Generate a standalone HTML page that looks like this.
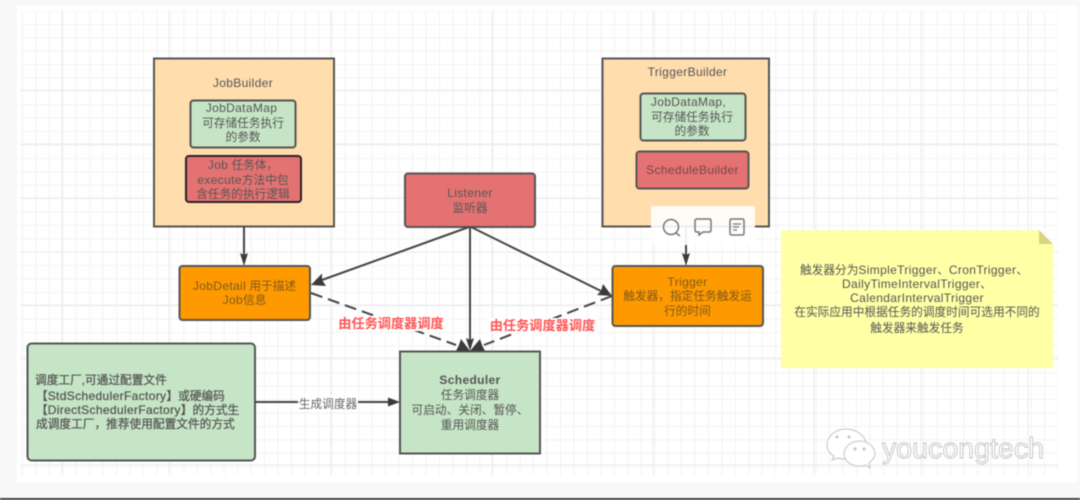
<!DOCTYPE html>
<html><head><meta charset="utf-8">
<style>
html,body{margin:0;padding:0;background:#f8f8f8;width:1080px;height:500px;overflow:hidden}
svg{display:block;filter:blur(0.5px)}
text{font-family:"Liberation Sans","Noto Sans CJK SC",sans-serif;font-size:11.7px;fill:#555;text-anchor:middle}
.a{font-size:12px;letter-spacing:.35px}
.f{text-anchor:start;stroke:#555;stroke-width:.25}
.b{stroke:#555;stroke-width:2}
.l{stroke:#444;stroke-width:2;fill:none}
.d{stroke:#444;stroke-width:2;fill:none;stroke-dasharray:12 6}
.h{fill:#3a3a3a;stroke:none}
.r{fill:#ff5555;font-weight:bold;font-size:13.2px}
.dk{fill:#7d5a1a}
</style></head><body>
<svg width="1080" height="500" viewBox="0 0 1080 500" xmlns="http://www.w3.org/2000/svg">
<defs>
<pattern id="g" x="22" y="10.500" width="13.45" height="13.4" patternUnits="userSpaceOnUse">
<path d="M0.5 0V13.4M0 0.5H13.45" stroke="#f2f2f2" stroke-width="1" fill="none"/>
</pattern>
</defs>
<rect x="0" y="0" width="1080" height="500" fill="#f8f8f8"/>
<rect x="17" y="6" width="1061" height="476" fill="#fff"/>
<rect x="20" y="11" width="1038" height="464" fill="url(#g)"/>
<g stroke="#ebebeb" stroke-width="1">
<path d="M62 11V475M169 11V475M331 11V475M492 11V475M653 11V475M814 11V475M921 11V475M1028 11V475"/>
<path d="M20 90H1058M20 144H1058M20 198H1058M20 252H1058M20 305H1058M20 358H1058M20 465H1058"/>
</g>
<rect x="0" y="498" width="1080" height="2" fill="#444"/>

<!-- JobBuilder -->
<rect class="b" x="154" y="58.500" width="180" height="168" fill="#ffddad"/>
<text class="a" x="243" y="87">JobBuilder</text>
<rect class="b" x="190.500" y="100.500" width="105" height="47" rx="3" fill="#c6e5c6"/>
<text class="a" x="241.500" y="112">JobDataMap</text>
<text x="243" y="127">可存储任务执行</text>
<text x="243" y="141">的参数</text>
<rect x="186" y="156" width="115" height="46" rx="3" fill="#e57272" stroke="#2a2226" stroke-width="2"/>
<text x="243" y="169"><tspan class="a">Job</tspan> 任务体，</text>
<text x="243" y="184"><tspan class="a">execute</tspan>方法中包</text>
<text x="243" y="198">含任务的执行逻辑</text>

<!-- TriggerBuilder -->
<rect class="b" x="602.500" y="58.500" width="166.500" height="168" fill="#ffddad"/>
<text class="a" x="687.500" y="76">TriggerBuilder</text>
<rect class="b" x="640.500" y="93.500" width="105" height="47" rx="3" fill="#c6e5c6"/>
<text class="a" x="688.500" y="106">JobDataMap,</text>
<text x="692" y="121">可存储任务执行</text>
<text x="692" y="135">的参数</text>
<rect class="b" x="636.500" y="151.500" width="112" height="37" rx="3" fill="#e57272"/>
<text class="a" x="692.500" y="174" style="fill:#74474a">ScheduleBuilder</text>

<!-- Listener -->
<rect class="b" x="405" y="173.500" width="130" height="53.500" rx="3" fill="#e57272"/>
<text class="a" x="470" y="197">Listener</text>
<text x="470" y="212">监听器</text>

<!-- JobDetail -->
<rect class="b" x="179.500" y="266" width="130.500" height="54" rx="3" fill="#ff9900"/>
<text class="dk" x="244.500" y="290"><tspan class="a">JobDetail</tspan> 用于描述</text>
<text class="dk" x="244.500" y="304"><tspan class="a">Job</tspan>信息</text>

<!-- Trigger -->
<rect class="b" x="612.500" y="266" width="150.500" height="60" rx="3" fill="#ff9900"/>
<text class="dk a" x="687.500" y="286">Trigger</text>
<text class="dk" x="687.500" y="300">触发器，指定任务触发运</text>
<text class="dk" x="687.500" y="315">行的时间</text>

<!-- Factory -->
<rect class="b" x="27.500" y="343.500" width="227.500" height="117" rx="4" fill="#c6e5c6"/>
<text class="f" x="35" y="384">调度工厂,可通过配置文件</text>
<text class="f" x="36" y="400">【<tspan class="a">StdSchedulerFactory</tspan>】或硬编码</text>
<text class="f" x="36" y="414">【<tspan class="a">DirectSchedulerFactory</tspan>】的方式生</text>
<text class="f" x="36" y="428">成调度工厂，推荐使用配置文件的方式</text>

<!-- Scheduler -->
<rect class="b" x="400" y="351.500" width="140" height="102" fill="#c6e5c6"/>
<text class="a" x="470" y="384" style="font-weight:bold">Scheduler</text>
<text x="470" y="399">任务调度器</text>
<text x="470" y="414">可启动、关闭、暂停、</text>
<text x="470" y="429">重用调度器</text>

<!-- Note -->
<path d="M781 230H1039L1053 244V368H781Z" fill="#ffffa6"/>
<path d="M1039 230L1053 244H1039Z" fill="#d6d680"/>
<text x="914" y="274">触发器分为<tspan class="a">SimpleTrigger</tspan>、<tspan class="a">CronTrigger</tspan>、</text>
<text x="917" y="288"><tspan class="a">DailyTimeIntervalTrigger</tspan>、</text>
<text x="917" y="302"><tspan class="a">CalendarIntervalTrigger</tspan></text>
<text x="917" y="316">在实际应用中根据任务的调度时间可选用不同的</text>
<text x="917" y="332">触发器来触发任务</text>

<!-- connectors -->
<path class="l" d="M244 227V256"/>
<path class="h" d="M244 266L240 253L244 255L248 253Z"/>
<path class="l" d="M469 227L322 280"/>
<path class="h" d="M311 285L322 273.500L322 280L326 286Z"/>
<path class="l" d="M470 227V342"/>
<path class="h" d="M470 351L466 338L470 340L474 338Z"/>
<path class="l" d="M471 227L601 291"/>
<path class="h" d="M612 296L597 295L601 291L603 284Z"/>
<path class="d" d="M311 293L456 345"/>
<path class="h" d="M470 351L456 351L459 345L461 339Z"/>
<path class="d" d="M612 296L484 345"/>
<path class="h" d="M470 351L480 339L482 345L485 351Z"/>
<path class="l" d="M255 402H391"/>
<path class="h" d="M400 402L388 397.500V406.500Z"/>
<rect x="298" y="396" width="60" height="15" fill="#fff"/>
<text x="328" y="408" style="fill:#666">生成调度器</text>

<rect x="336" y="316" width="110" height="15" fill="#fff"/>
<rect x="487" y="318" width="110" height="15" fill="#fff"/>
<text class="r" x="391" y="328">由任务调度器调度</text>
<text class="r" x="542.500" y="330">由任务调度器调度</text>

<!-- popup toolbar -->
<path class="l" d="M686 227V256" opacity=".9"/>
<path d="M651 206H755V245H708L703 251L698 245H651Z" fill="#fff" fill-opacity=".9"/>
<path class="l" d="M686 245V256"/>
<path class="h" d="M686 266L682 253L686 255L690 253Z"/>
<g fill="none" stroke="#777" stroke-width="1.500">
<circle cx="671" cy="227" r="7.500"/><path d="M676 233L680 236"/>
<path d="M697 219H709Q711 219 711 221V230Q711 232 709 232H703L699 235V232H697Q695 232 695 230V221Q695 219 697 219Z"/>
<rect x="730" y="219" width="14" height="16" rx="1.500"/>
<path d="M733 224H741M733 227H739M733 230H737" stroke-width="1.200"/>
</g>

<!-- watermark -->
<g fill="#fff" stroke="#c4c4c4" stroke-width="1">
<path d="M846 429C836 429 827 436 827 445C827 450 830 454 834 456L832 460L838 458C841 459 844 459 846 459C860 459 866 452 866 444C866 436 856 429 846 429Z"/>
<path d="M860 441C851 441 844 447 844 454C844 461 851 466 860 466C862 466 864 466 866 465L870 468L869 463C873 460 875 457 875 454C875 447 868 441 860 441Z"/>
</g>
<g fill="#c4c4c4"><circle cx="837" cy="437" r="1.500"/><circle cx="849" cy="437" r="1.500"/><circle cx="855" cy="449" r="1.500"/><circle cx="864" cy="449" r="1.500"/></g>
<text x="963" y="458" textLength="162" lengthAdjust="spacingAndGlyphs" style="font-size:29px;fill:#fff;stroke:#b4b4b4;stroke-width:.7">youcongtech</text>
</svg>
</body></html>
